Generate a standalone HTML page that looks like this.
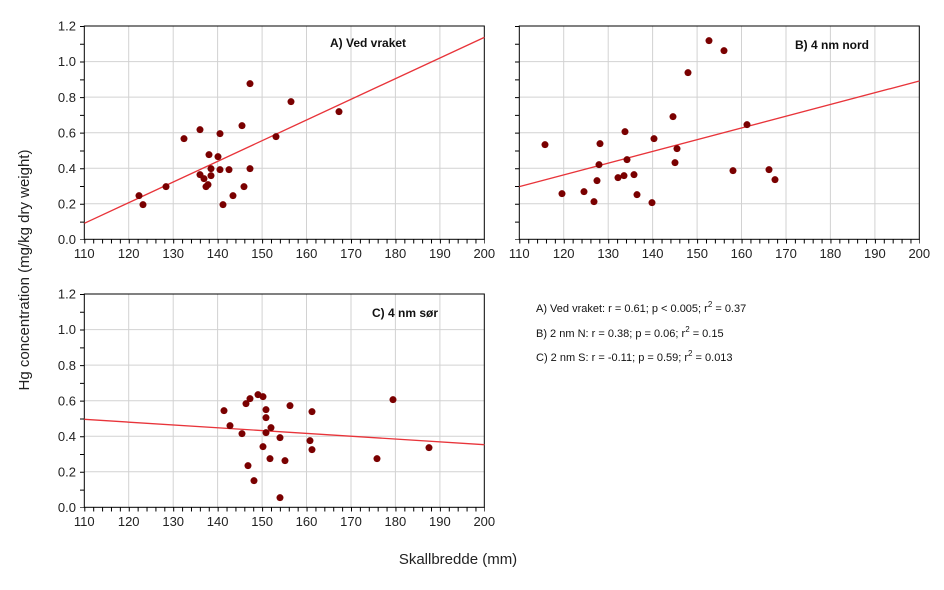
<!DOCTYPE html>
<html><head><meta charset="utf-8"><style>
html,body{margin:0;padding:0;background:#fff;}
svg{display:block;font-family:"Liberation Sans",Arial,sans-serif;}
</style></head><body>
<svg width="944" height="590" viewBox="0 0 944 590" xmlns="http://www.w3.org/2000/svg">
<defs>
<g id="grid">
 <g stroke="#d2d2d2" stroke-width="1">
  <line x1="128.7" y1="26" x2="128.7" y2="239.3"/><line x1="173.2" y1="26" x2="173.2" y2="239.3"/>
  <line x1="217.6" y1="26" x2="217.6" y2="239.3"/><line x1="262.1" y1="26" x2="262.1" y2="239.3"/>
  <line x1="306.5" y1="26" x2="306.5" y2="239.3"/><line x1="351" y1="26" x2="351" y2="239.3"/>
  <line x1="395.4" y1="26" x2="395.4" y2="239.3"/><line x1="439.9" y1="26" x2="439.9" y2="239.3"/>
  <line x1="84.3" y1="203.8" x2="484.3" y2="203.8"/><line x1="84.3" y1="168.2" x2="484.3" y2="168.2"/>
  <line x1="84.3" y1="132.7" x2="484.3" y2="132.7"/><line x1="84.3" y1="97.1" x2="484.3" y2="97.1"/>
  <line x1="84.3" y1="61.6" x2="484.3" y2="61.6"/>
 </g>
 <rect x="84.3" y="26" width="400" height="213.3" fill="none" stroke="#000" stroke-width="1"/>
 <line x1="84.3" y1="241.5" x2="485" y2="241.5" stroke="#000" stroke-width="4" stroke-dasharray="1 7.89"/>
 <line x1="82" y1="26" x2="82" y2="240" stroke="#000" stroke-width="4" stroke-dasharray="1 16.78"/>
 <g font-size="13" fill="#222" text-anchor="middle">
  <text x="84.3" y="258">110</text><text x="128.7" y="258">120</text><text x="173.2" y="258">130</text>
  <text x="217.6" y="258">140</text><text x="262.1" y="258">150</text><text x="306.5" y="258">160</text>
  <text x="351" y="258">170</text><text x="395.4" y="258">180</text><text x="439.9" y="258">190</text>
  <text x="484.3" y="258">200</text>
 </g>
</g>
<g id="ylab" font-size="13" fill="#222" text-anchor="end">
  <text x="76" y="244">0.0</text><text x="76" y="208.5">0.2</text><text x="76" y="173">0.4</text>
  <text x="76" y="137.5">0.6</text><text x="76" y="102">0.8</text><text x="76" y="66">1.0</text><text x="76" y="30.5">1.2</text>
</g>
</defs>

<use href="#grid"/><use href="#ylab"/>
<use href="#grid" transform="translate(435,0)"/>
<use href="#grid" transform="translate(0,268)"/><use href="#ylab" transform="translate(0,268)"/>

<!-- Panel A -->
<g transform="translate(40,10) scale(0.33333)">
 <line x1="133" y1="640" x2="1333" y2="82" stroke="#e8343a" stroke-width="4"/>
 <g fill="#7a0000">
 <circle cx="297" cy="557" r="10.5"/><circle cx="309" cy="584" r="10.5"/><circle cx="378" cy="530" r="10.5"/>
 <circle cx="432" cy="386" r="10.5"/><circle cx="480" cy="359" r="10.5"/><circle cx="480" cy="494" r="10.5"/>
 <circle cx="492" cy="506" r="10.5"/><circle cx="498" cy="530" r="10.5"/><circle cx="504" cy="524" r="10.5"/>
 <circle cx="507" cy="434" r="10.5"/><circle cx="513" cy="476" r="10.5"/><circle cx="513" cy="497" r="10.5"/>
 <circle cx="540" cy="371" r="10.5"/><circle cx="534" cy="440" r="10.5"/><circle cx="540" cy="479" r="10.5"/>
 <circle cx="549" cy="584" r="10.5"/><circle cx="567" cy="479" r="10.5"/><circle cx="579" cy="557" r="10.5"/>
 <circle cx="606" cy="347" r="10.5"/><circle cx="612" cy="530" r="10.5"/><circle cx="630" cy="221" r="10.5"/>
 <circle cx="630" cy="476" r="10.5"/><circle cx="708" cy="380" r="10.5"/><circle cx="753" cy="275" r="10.5"/>
 <circle cx="897" cy="305" r="10.5"/>
 </g>
</g>
<text x="330" y="47" font-size="12" font-weight="bold" fill="#111">A) Ved vraket</text>

<!-- Panel B -->
<g transform="translate(500,10) scale(0.33333)">
 <line x1="58" y1="530" x2="1258" y2="213" stroke="#e8343a" stroke-width="4"/>
 <g fill="#7a0000">
 <circle cx="135" cy="404" r="10.5"/><circle cx="186" cy="551" r="10.5"/><circle cx="252" cy="545" r="10.5"/>
 <circle cx="282" cy="575" r="10.5"/><circle cx="291" cy="512" r="10.5"/><circle cx="297" cy="464" r="10.5"/>
 <circle cx="300" cy="401" r="10.5"/><circle cx="354" cy="503" r="10.5"/><circle cx="372" cy="497" r="10.5"/>
 <circle cx="375" cy="365" r="10.5"/><circle cx="381" cy="449" r="10.5"/><circle cx="402" cy="494" r="10.5"/>
 <circle cx="411" cy="554" r="10.5"/><circle cx="456" cy="578" r="10.5"/><circle cx="462" cy="386" r="10.5"/>
 <circle cx="519" cy="320" r="10.5"/><circle cx="525" cy="458" r="10.5"/><circle cx="531" cy="416" r="10.5"/>
 <circle cx="564" cy="188" r="10.5"/><circle cx="627" cy="92" r="10.5"/><circle cx="672" cy="122" r="10.5"/>
 <circle cx="699" cy="482" r="10.5"/><circle cx="741" cy="344" r="10.5"/><circle cx="807" cy="479" r="10.5"/>
 <circle cx="825" cy="509" r="10.5"/>
 </g>
</g>
<text x="795" y="49" font-size="12" font-weight="bold" fill="#111">B) 4 nm nord</text>

<!-- Panel C -->
<g transform="translate(40,280) scale(0.33333)">
 <line x1="133" y1="418" x2="1333" y2="494" stroke="#e8343a" stroke-width="4"/>
 <g fill="#7a0000">
 <circle cx="552" cy="392" r="10.5"/><circle cx="570" cy="437" r="10.5"/><circle cx="606" cy="461" r="10.5"/>
 <circle cx="618" cy="371" r="10.5"/><circle cx="624" cy="557" r="10.5"/><circle cx="630" cy="356" r="10.5"/>
 <circle cx="642" cy="602" r="10.5"/><circle cx="654" cy="344" r="10.5"/><circle cx="669" cy="350" r="10.5"/>
 <circle cx="669" cy="500" r="10.5"/><circle cx="678" cy="389" r="10.5"/><circle cx="678" cy="413" r="10.5"/>
 <circle cx="678" cy="458" r="10.5"/><circle cx="690" cy="536" r="10.5"/><circle cx="693" cy="443" r="10.5"/>
 <circle cx="720" cy="473" r="10.5"/><circle cx="720" cy="653" r="10.5"/><circle cx="735" cy="542" r="10.5"/>
 <circle cx="750" cy="377" r="10.5"/><circle cx="810" cy="482" r="10.5"/><circle cx="816" cy="395" r="10.5"/>
 <circle cx="816" cy="509" r="10.5"/><circle cx="1011" cy="536" r="10.5"/><circle cx="1059" cy="359" r="10.5"/>
 <circle cx="1167" cy="503" r="10.5"/>
 </g>
</g>
<text x="372" y="317" font-size="12" font-weight="bold" fill="#111">C) 4 nm sør</text>

<!-- Stats -->
<g font-size="11" fill="#111">
 <text x="536" y="312">A) Ved vraket: r =  0.61; p &lt; 0.005; r<tspan dy="-5" font-size="8">2</tspan><tspan dy="5"> = 0.37</tspan></text>
 <text x="536" y="337">B) 2 nm N: r =  0.38; p = 0.06; r<tspan dy="-5" font-size="8">2</tspan><tspan dy="5"> = 0.15</tspan></text>
 <text x="536" y="361">C) 2 nm S: r = -0.11; p = 0.59; r<tspan dy="-5" font-size="8">2</tspan><tspan dy="5"> = 0.013</tspan></text>
</g>

<text transform="translate(29,270) rotate(-90)" font-size="15" fill="#222" text-anchor="middle">Hg concentration (mg/kg dry weight)</text>
<text x="458" y="564" font-size="15" fill="#222" text-anchor="middle">Skallbredde (mm)</text>
</svg>
</body></html>
